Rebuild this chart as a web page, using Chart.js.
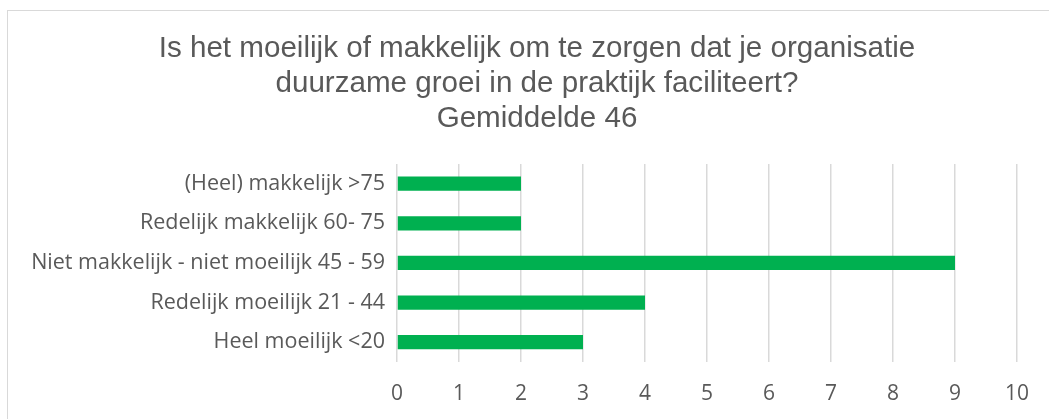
<!DOCTYPE html>
<html>
<head>
<meta charset="utf-8">
<script src="https://cdn.jsdelivr.net/npm/chart.js@4/dist/chart.umd.min.js"></script>
<style>
  html, body { margin: 0; padding: 0; background: #fff; overflow: hidden; }
  #frame {
    position: absolute; left: 7px; top: 10px;
    width: 1100px; height: 460px;
    border: 1px solid #d9d9d9; background: #fff;
  }
  #wrap { position: absolute; left: 0; top: 0; width: 1058px; height: 408px; }
</style>
</head>
<body>
<div id="frame"><div id="wrap"><canvas id="c"></canvas></div></div>
<script>
// categories top to bottom, as in the picture
var categories = [
  '(Heel) makkelijk >75',
  'Redelijk makkelijk 60- 75',
  'Niet makkelijk - niet moeilijk 45 - 59',
  'Redelijk moeilijk 21 - 44',
  'Heel moeilijk <20'
];
var counts = [2, 2, 9, 4, 3];
var titleLines = [
  'Is het moeilijk of makkelijk om te zorgen dat je organisatie',
  'duurzame groei in de praktijk faciliteert?',
  'Gemiddelde 46'
];
var xTicks = [0, 1, 2, 3, 4, 5, 6, 7, 8, 9, 10];

(function(){
  var labelFont = '"Open Sans", Lato, sans-serif';
  var ctx = document.getElementById('c').getContext('2d');
  new Chart(ctx, {
    type: 'bar',
    data: {
      labels: categories,
      datasets: [{
        data: counts,
        backgroundColor: '#00b050',
        borderWidth: 0,
        barPercentage: 0.36,
        categoryPercentage: 1
      }]
    },
    options: {
      indexAxis: 'y',
      responsive: true,
      maintainAspectRatio: false,
      animation: false,
      plugins: {
        legend: { display: false },
        tooltip: { enabled: false },
        title: {
          display: true,
          text: titleLines,
          color: '#595959',
          font: { family: '"Liberation Sans", Arial, sans-serif', size: 29.6, weight: 'normal', lineHeight: 1.17 },
          padding: { top: 21, bottom: 28 }
        }
      },
      scales: {
        x: {
          min: 0, max: 10,
          afterBuildTicks: function(axis){ axis.ticks = xTicks.map(function(v){ return { value: v }; }); },
          grid: { color: '#d9d9d9', lineWidth: 1.5, drawTicks: false },
          border: { display: false },
          ticks: { color: '#595959', font: { family: labelFont, size: 21 }, padding: 19 },
          afterFit: function(axis){ axis.height = 57; }
        },
        y: {
          grid: { display: false, drawTicks: false },
          border: { display: false },
          ticks: { color: '#595959', font: { family: labelFont, size: 21.5 }, padding: 12 },
          afterFit: function(axis){ axis.width = 389; }
        },
        // empty right-hand axis: keeps a margin on the right while the title stays full width
        yRight: {
          type: 'category',
          position: 'right',
          grid: { display: false, drawTicks: false },
          border: { display: false },
          ticks: { display: false },
          afterFit: function(axis){ axis.width = 49; }
        }
      }
    }
  });
})();
</script>
</body>
</html>
